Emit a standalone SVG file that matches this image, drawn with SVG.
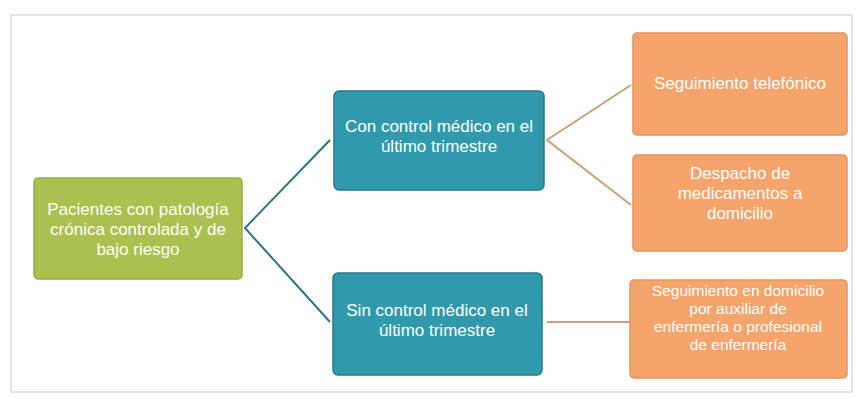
<svg xmlns="http://www.w3.org/2000/svg" width="857" height="399" viewBox="0 0 857 399">
<style>
.t{font-family:"Liberation Sans",Arial,sans-serif;font-size:17px;fill:#ffffff;text-anchor:middle}
.s{font-size:15.5px}
.g{fill:#abc04f;stroke:#98ad45;stroke-width:1.5}
.b{fill:#3199ac;stroke:#267a88;stroke-width:1.5}
.o{fill:#f5a46c;stroke:#e3935c;stroke-width:1.5}
.c1{stroke:#2d7382;stroke-width:2;fill:none}
.c2{stroke:#c9a27c;stroke-width:2;fill:none}
</style>
<rect x="0" y="0" width="857" height="399" fill="#ffffff"/>
<rect x="11" y="15" width="841" height="377" fill="#ffffff" stroke="#dcdcdc" stroke-width="1.5"/>
<g id="connectors">
<polyline class="c1" points="330,140 245,228 330,322"/>
<polyline class="c2" points="631,85 547,140 631,205"/>
<line class="c2" x1="547" y1="322" x2="630" y2="322"/>
</g>
<g id="n_pacientes">
<rect class="g" x="34" y="178" width="208" height="101" rx="4"/>
<text class="t" x="138" y="215">Pacientes con patología</text>
<text class="t" x="138" y="235">crónica controlada y de</text>
<text class="t" x="138" y="255">bajo riesgo</text>
</g>
<g id="n_con">
<rect class="b" x="334" y="91" width="210" height="99" rx="5"/>
<text class="t" x="439" y="132">Con control médico en el</text>
<text class="t" x="439" y="152">último trimestre</text>
</g>
<g id="n_sin">
<rect class="b" x="333" y="273" width="209" height="102" rx="5"/>
<text class="t" x="437" y="316">Sin control médico en el</text>
<text class="t" x="437" y="336">último trimestre</text>
</g>
<g id="n_tel">
<rect class="o" x="633" y="33" width="214" height="102" rx="4"/>
<text class="t" x="740" y="89">Seguimiento telefónico</text>
</g>
<g id="n_desp">
<rect class="o" x="633" y="155" width="214" height="96" rx="4"/>
<text class="t" x="740" y="179">Despacho de</text>
<text class="t" x="740" y="199">medicamentos a</text>
<text class="t" x="740" y="219">domicilio</text>
</g>
<g id="n_dom">
<rect class="o" x="630" y="280" width="217" height="98" rx="4"/>
<text class="t s" x="738" y="296">Seguimiento en domicilio</text>
<text class="t s" x="738" y="314">por auxiliar de</text>
<text class="t s" x="738" y="332">enfermería o profesional</text>
<text class="t s" x="738" y="350">de enfermería</text>
</g>
</svg>
